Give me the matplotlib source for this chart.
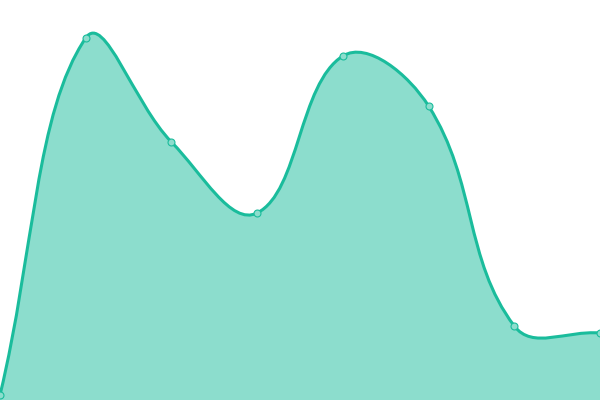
import matplotlib
matplotlib.use("Agg")
import matplotlib.pyplot as plt
import numpy as np
from matplotlib.path import Path
from matplotlib.patches import PathPatch

# Dane (8 punktów, równo rozłożonych)
labels = ["A", "B", "C", "D", "E", "F", "G", "H"]
values = [5, 362, 258, 187, 344, 294, 74, 67]

LINE_COLOR = "#1abc9c"
TENSION = 0.4

fig = plt.figure(figsize=(6, 4), dpi=100)
ax = fig.add_axes([0, 0, 1, 1])
ax.set_xlim(0, len(values) - 1)
ax.set_ylim(0, 400)
ax.axis("off")

xs = np.arange(len(values), dtype=float)
pts = ax.transData.transform(np.column_stack([xs, values]))


def spline_controls(prev, cur, nxt, t):
    # punkty kontrolne jak w krzywej "splineCurve"
    d01 = np.hypot(*(cur - prev))
    d12 = np.hypot(*(nxt - cur))
    total = d01 + d12
    s01 = d01 / total if total else 0
    s12 = d12 / total if total else 0
    fa = t * s01
    fb = t * s12
    return cur - fa * (nxt - prev), cur + fb * (nxt - prev)


n = len(pts)
cps_prev = []
cps_next = []
for i in range(n):
    prev = pts[i - 1] if i > 0 else pts[i]
    nxt = pts[i + 1] if i < n - 1 else pts[i]
    cp_a, cp_b = spline_controls(prev, pts[i], nxt, TENSION)
    cps_prev.append(cp_a)
    cps_next.append(cp_b)

verts = [pts[0]]
codes = [Path.MOVETO]
for i in range(n - 1):
    verts += [cps_next[i], cps_prev[i + 1], pts[i + 1]]
    codes += [Path.CURVE4] * 3

inv = ax.transData.inverted()
verts_data = inv.transform(np.array(verts))

line_path = Path(verts_data, codes)

fill_verts = list(verts_data) + [(xs[-1], 0), (xs[0], 0), verts_data[0]]
fill_codes = codes + [Path.LINETO, Path.LINETO, Path.CLOSEPOLY]
fill_path = Path(fill_verts, fill_codes)

ax.add_patch(PathPatch(fill_path, facecolor=LINE_COLOR, alpha=0.5, edgecolor="none"))
ax.add_patch(PathPatch(line_path, facecolor="none", edgecolor=LINE_COLOR, linewidth=2.2,
                       capstyle="round", joinstyle="round"))

ax.plot(xs, values, linestyle="none", marker="o", markersize=5,
        markerfacecolor="#8cddcd", markeredgecolor=LINE_COLOR, markeredgewidth=0.8,
        clip_on=False)

fig.savefig("out.png", dpi=100)
